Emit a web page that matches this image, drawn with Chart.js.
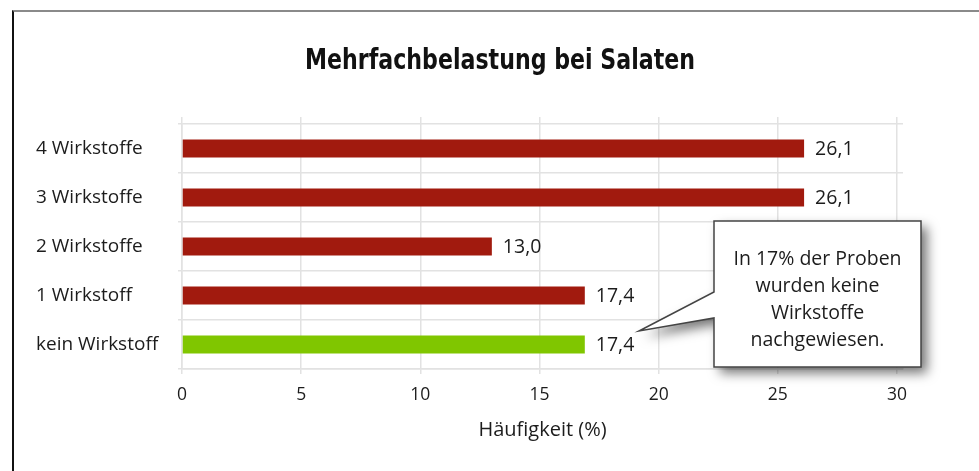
<!DOCTYPE html>
<html><head><meta charset="utf-8">
<script src="https://cdn.jsdelivr.net/npm/chart.js@4/dist/chart.umd.min.js"></script>
<style>
html,body{margin:0;padding:0;background:#fff;}
#wrap{position:relative;width:979px;height:471px;overflow:hidden;}
#frame{position:absolute;left:12px;top:10px;width:1000px;height:500px;border-top:2px solid #8a8a8a;border-left:2px solid #111;}
canvas{position:absolute;left:0;top:0;}
</style></head>
<body><div id="wrap"><div id="frame"></div><canvas id="c" width="979" height="471"></canvas></div>
<script>
const categories = ['4 Wirkstoffe', '3 Wirkstoffe', '2 Wirkstoffe', '1 Wirkstoff', 'kein Wirkstoff'];
// bar lengths as drawn in the picture
const values = [26.1, 26.1, 13.0, 16.9, 16.9];
// value labels as printed in the picture
const valueLabels = ['26,1', '26,1', '13,0', '17,4', '17,4'];
const barColors = ['#a11a0e', '#a11a0e', '#a11a0e', '#a11a0e', '#80c600'];
const xTicks = [0, 5, 10, 15, 20, 25, 30];
const titleText = 'Mehrfachbelastung bei Salaten';
const xTitle = 'Häufigkeit (%)';
const calloutLines = ['In 17% der Proben', 'wurden keine', 'Wirkstoffe', 'nachgewiesen.'];

const FONT = '"Open Sans", "Noto Sans", sans-serif';
const GRID = '#e2e2e2';
const TEXT = '#1c1c1c';

const decorations = {
  id: 'decorations',
  afterDatasetsDraw(chart) {
    const ctx = chart.ctx;
    const meta = chart.getDatasetMeta(0);
    ctx.save();
    ctx.font = '19.5px ' + FONT;
    ctx.fillStyle = TEXT;
    ctx.textAlign = 'left';
    ctx.textBaseline = 'middle';
    meta.data.forEach((bar, i) => {
      ctx.fillText(valueLabels[i], bar.x + 11, bar.y + 1);
    });
    ctx.restore();
  },
  afterDraw(chart) {
    const ctx = chart.ctx;
    ctx.save();
    // title
    ctx.font = 'bold 29px "DejaVu Sans Condensed", "DejaVu Sans", sans-serif';
    try { ctx.fontStretch = 'condensed'; } catch (e) {}
    ctx.fillStyle = '#111';
    ctx.textAlign = 'center';
    ctx.textBaseline = 'middle';
    const w = ctx.measureText(titleText).width;
    const target = 390;
    ctx.translate(500, 61);
    if (w > target) ctx.scale(target / w, 1);
    ctx.fillText(titleText, 0, 0);
    ctx.restore();
    ctx.save();
    // callout
    const L = 714, R = 921, T = 221, B = 367;
    const path = () => {
      ctx.beginPath();
      ctx.moveTo(L, T);
      ctx.lineTo(R, T);
      ctx.lineTo(R, B);
      ctx.lineTo(L, B);
      ctx.lineTo(L, 318);
      ctx.lineTo(639, 331);
      ctx.lineTo(L, 292);
      ctx.closePath();
    };
    ctx.save();
    ctx.shadowColor = 'rgba(0,0,0,0.55)';
    ctx.shadowBlur = 12;
    ctx.shadowOffsetX = 6;
    ctx.shadowOffsetY = 6;
    path();
    ctx.fillStyle = '#fff';
    ctx.fill();
    ctx.restore();
    path();
    ctx.lineWidth = 1.5;
    ctx.strokeStyle = '#444';
    ctx.stroke();
    ctx.font = '19.5px ' + FONT;
    ctx.fillStyle = TEXT;
    ctx.textAlign = 'center';
    ctx.textBaseline = 'middle';
    calloutLines.forEach((t, i) => ctx.fillText(t, (L + R) / 2, 259 + i * 27));
    ctx.restore();
  }
};

new Chart(document.getElementById('c'), {
  type: 'bar',
  data: {
    labels: categories,
    datasets: [{
      data: values,
      backgroundColor: barColors,
      borderWidth: 0,
      barPercentage: 0.367,
      categoryPercentage: 1.0
    }]
  },
  options: {
    indexAxis: 'y',
    responsive: false,
    animation: false,
    events: [],
    layout: { padding: { left: 36, right: 76, top: 117, bottom: 0 } },
    plugins: { legend: { display: false }, tooltip: { enabled: false }, title: { display: false } },
    scales: {
      y: {
        type: 'category',
        offset: true,
        grid: { color: GRID, offset: true, tickLength: 4, lineWidth: 1.5 },
        border: { color: GRID, width: 1.5 },
        ticks: { crossAlign: 'far', color: TEXT, font: { family: FONT, size: 19 } },
        afterFit(scale) { scale.width = 146; }
      },
      x: {
        type: 'linear',
        position: 'bottom',
        min: 0,
        max: 30.25,
        afterBuildTicks(scale) { scale.ticks = xTicks.map(v => ({ value: v })); },
        grid: { color: GRID, tickLength: 5, lineWidth: 1.5 },
        border: { color: GRID, width: 1.5 },
        ticks: { padding: 11, color: TEXT, font: { family: FONT, size: 17.5 } },
        title: { display: true, text: xTitle, color: TEXT, font: { family: FONT, size: 20 }, padding: { top: 4, bottom: 29 } },
        afterFit(scale) { scale.height = 102; }
      },
      x2: {
        type: 'linear',
        position: 'top',
        min: 0,
        max: 30.25,
        afterBuildTicks(scale) { scale.ticks = xTicks.map(v => ({ value: v })); },
        grid: { color: GRID, drawOnChartArea: false, tickLength: 7, lineWidth: 1.5 },
        border: { display: false },
        ticks: { display: false }
      }
    }
  },
  plugins: [decorations]
});
</script>
</body></html>
